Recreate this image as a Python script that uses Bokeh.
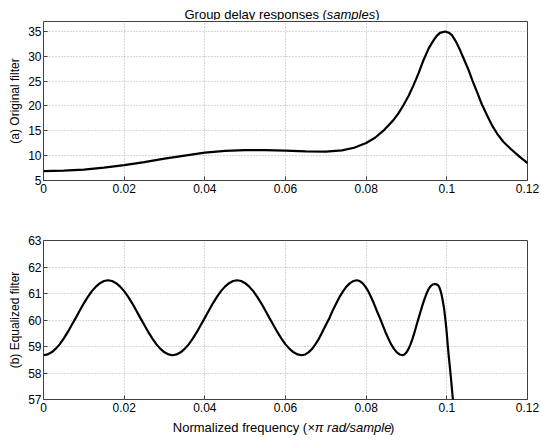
from bokeh.plotting import figure
from bokeh.models import FixedTicker, Range1d
from bokeh.layouts import column
from bokeh.core.properties import value
from bokeh.embed import file_html
from bokeh.resources import INLINE

# ---- data ----
freq_a = [0.0, 0.005, 0.010, 0.015, 0.020, 0.025, 0.030, 0.035, 0.040, 0.045,
          0.050, 0.055, 0.060, 0.065, 0.070, 0.074, 0.077, 0.080, 0.0822, 0.0845,
          0.0867, 0.0880, 0.0892, 0.0905, 0.0917, 0.0930, 0.0942, 0.0955, 0.0967,
          0.0975, 0.0983, 0.0996, 0.1005, 0.1013, 0.1023, 0.1033, 0.1043, 0.1054,
          0.1064, 0.1075, 0.1087, 0.1100, 0.1112, 0.1125, 0.1140, 0.1158, 0.1180, 0.1200]
delay_a = [6.9, 7.0, 7.2, 7.6, 8.1, 8.7, 9.4, 10.0, 10.6, 10.95,
           11.1, 11.1, 11.0, 10.85, 10.8, 11.05, 11.6, 12.55, 13.6, 15.2,
           17.1, 18.5, 20.1, 22.0, 24.1, 26.6, 29.2, 31.6, 33.2,
           34.1, 34.7, 35.0, 34.75, 34.2, 32.9, 31.2, 29.3, 27.2,
           25.0, 22.8, 20.3, 18.1, 16.1, 14.4, 12.8, 11.4, 9.8, 8.5]

freq_b = [0.000, 0.001, 0.002, 0.003, 0.004, 0.005, 0.006, 0.007, 0.008,
          0.009, 0.010, 0.011, 0.012, 0.013, 0.014, 0.015, 0.016,
          0.017, 0.018, 0.019, 0.020, 0.021, 0.022, 0.023, 0.024,
          0.025, 0.026, 0.027, 0.028, 0.029, 0.030, 0.031, 0.032,
          0.033, 0.034, 0.035, 0.036, 0.037, 0.038, 0.039, 0.040,
          0.041, 0.042, 0.043, 0.044, 0.045, 0.046, 0.047, 0.048,
          0.049, 0.050, 0.051, 0.052, 0.053, 0.054, 0.055, 0.056,
          0.057, 0.058, 0.059, 0.060, 0.061, 0.062, 0.063, 0.064,
          0.0649, 0.0657, 0.0666, 0.0674, 0.0683, 0.0691, 0.0700, 0.0709,
          0.0717, 0.0726, 0.0734, 0.0743, 0.0751, 0.0760, 0.0768, 0.0777,
          0.0784, 0.0791, 0.0798, 0.0805, 0.0812, 0.0819, 0.0826, 0.0834,
          0.0841, 0.0848, 0.0855, 0.0862, 0.0869, 0.0876, 0.0883, 0.0890,
          0.0895, 0.0900, 0.0905, 0.0910, 0.0915, 0.0920, 0.0925, 0.0930,
          0.0935, 0.0940, 0.0945, 0.0950, 0.0955, 0.0960, 0.0965, 0.0970,
          0.0974, 0.0978, 0.0981, 0.0984, 0.0987, 0.0990, 0.0993, 0.0996,
          0.0999, 0.1002, 0.1005, 0.1010, 0.1015, 0.1018]
delay_b = [58.67, 58.70, 58.78, 58.91, 59.08, 59.30, 59.54, 59.81, 60.08,
           60.36, 60.63, 60.87, 61.09, 61.26, 61.39, 61.47, 61.50,
           61.47, 61.39, 61.26, 61.09, 60.87, 60.63, 60.36, 60.08,
           59.81, 59.54, 59.30, 59.08, 58.91, 58.78, 58.70, 58.67,
           58.70, 58.78, 58.91, 59.08, 59.30, 59.54, 59.81, 60.08,
           60.36, 60.63, 60.87, 61.09, 61.26, 61.39, 61.47, 61.50,
           61.47, 61.39, 61.26, 61.09, 60.87, 60.63, 60.36, 60.08,
           59.81, 59.54, 59.30, 59.08, 58.91, 58.78, 58.70, 58.67,
           58.70, 58.78, 58.91, 59.08, 59.30, 59.54, 59.81, 60.08,
           60.36, 60.63, 60.87, 61.09, 61.26, 61.39, 61.47, 61.50,
           61.47, 61.39, 61.26, 61.09, 60.87, 60.63, 60.36, 60.08,
           59.81, 59.54, 59.30, 59.08, 58.91, 58.78, 58.70, 58.67,
           58.70, 58.78, 58.91, 59.08, 59.30, 59.54, 59.81, 60.07,
           60.33, 60.58, 60.81, 61.01, 61.17, 61.28, 61.34, 61.36,
           61.35, 61.31, 61.25, 61.12, 60.95, 60.72, 60.45, 60.07,
           59.65, 59.10, 58.60, 57.84, 57.00, 56.60]

x_ticks = [0.0, 0.02, 0.04, 0.06, 0.08, 0.10, 0.12]
x_tick_labels = ["0", "0.02", "0.04", "0.06", "0.08", "0.1", "0.12"]
y_ticks_a = [5, 10, 15, 20, 25, 30, 35]
y_ticks_b = [57, 58, 59, 60, 61, 62, 63]

title_parts = [("Group delay responses (", "normal"), ("samples", "italic"), (")", "normal")]
xlabel_parts = [("Normalized frequency (", "normal"), ("\u00d7\u03c0 rad/sample", "italic"), (")", "normal")]
ylabel_a = "(a) Original filter"
ylabel_b = "(b) Equalized filter"

FONT = "Liberation Sans"
FW = 484          # frame width
BL, BR = 43, 13   # left / right borders
# Arial / Liberation Sans advance widths (per 1000 em)
WID = {' ': 278, '(': 333, ')': 333, '/': 278, 'G': 778, 'N': 722, 'a': 556, 'b': 556,
       'c': 500, 'd': 556, 'e': 556, 'f': 278, 'g': 556, 'i': 222, 'l': 222, 'm': 833,
       'n': 556, 'o': 556, 'p': 556, 'q': 556, 'r': 333, 's': 500, 't': 278, 'u': 556,
       'y': 500, 'z': 500, '\u00d7': 584, '\u03c0': 556}


def text_w(s, size):
    return sum(WID.get(c, 556) for c in s) * size / 1000.0


def text_strip(parts, cx, baseline, height, size):
    """A frameless strip (same frame as the plots) holding mixed normal/italic text."""
    p = figure(frame_width=FW, frame_height=height, min_border_left=BL, min_border_right=BR,
               min_border_top=0, min_border_bottom=0,
               x_range=Range1d(0, FW), y_range=Range1d(0, height),
               x_axis_location=None, y_axis_location=None,
               output_backend="svg", toolbar_location=None,
               background_fill_color="white", border_fill_color="white")
    p.outline_line_color = None
    p.grid.visible = False
    total = sum(text_w(t, size) for t, _ in parts)
    x = cx - total / 2.0
    for t, style in parts:
        p.text(x=[x], y=[baseline], text=[t], text_font=value(FONT),
               text_font_size=value(f"{size}px"), text_font_style=style,
               text_color="black", text_align="left", text_baseline="alphabetic")
        x += text_w(t, size)
    return p


def make_fig(xs, ys, yr, yticks, ylabel, fh, top, bottom):
    p = figure(frame_width=FW, frame_height=fh, min_border_left=BL, min_border_right=BR,
               min_border_top=top, min_border_bottom=bottom,
               x_range=Range1d(0, 0.12), y_range=Range1d(*yr),
               output_backend="svg", toolbar_location=None,
               background_fill_color="white", border_fill_color="white")
    p.line(xs, ys, line_color="black", line_width=2.2)
    p.xaxis.ticker = FixedTicker(ticks=x_ticks)
    p.xaxis.major_label_overrides = {t: l for t, l in zip(x_ticks, x_tick_labels)}
    p.yaxis.ticker = FixedTicker(ticks=yticks)
    p.yaxis.axis_label = ylabel
    p.yaxis.axis_label_standoff = 3
    p.yaxis.axis_label_text_font = FONT
    p.yaxis.axis_label_text_font_size = "12px"
    p.yaxis.axis_label_text_font_style = "normal"
    p.yaxis.axis_label_text_color = "black"
    for ax in (p.xaxis, p.yaxis):
        ax.axis_line_color = None
        ax.major_tick_in = 4
        ax.major_tick_out = 0
        ax.major_tick_line_color = "#404040"
        ax.minor_tick_line_color = None
        ax.major_label_text_font = FONT
        ax.major_label_text_font_size = "12px"
        ax.major_label_text_color = "black"
    p.xaxis.major_label_standoff = 3
    p.yaxis.major_label_standoff = 2
    p.grid.grid_line_color = "#b0b0b0"
    p.grid.grid_line_dash = "1 2"
    p.grid.grid_line_width = 1
    p.outline_line_color = "#404040"
    p.outline_line_width = 1
    p.outline_line_alpha = 1.0
    return p


title_fig = text_strip(title_parts, 238.5, 6.5, 20, 13)
p1 = make_fig(freq_a, delay_a, (5, 37), y_ticks_a, ylabel_a, 159, 1, 30)
p2 = make_fig(freq_b, delay_b, (57, 63), y_ticks_b, ylabel_b, 159, 30, 17)
xlabel_fig = text_strip(xlabel_parts, 240, 13, 24, 13)

layout = column(title_fig, p1, p2, xlabel_fig, spacing=0)
open("out.html", "w").write(file_html(layout, INLINE))
